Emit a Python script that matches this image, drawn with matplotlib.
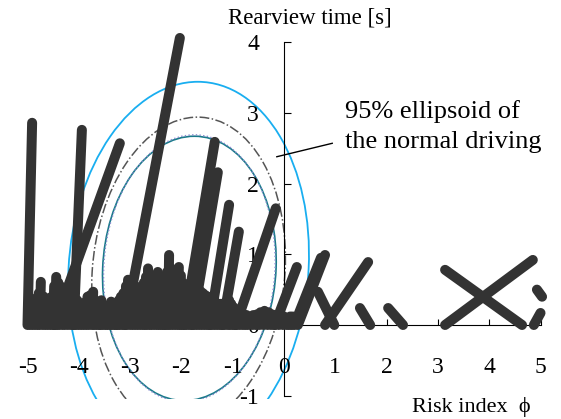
import numpy as np
import matplotlib
matplotlib.use('Agg')
import matplotlib.pyplot as plt
from matplotlib.patches import Ellipse
from matplotlib.transforms import Affine2D

plt.rcParams['font.family'] = ['Liberation Serif', 'DejaVu Serif']
plt.rcParams['axes.unicode_minus'] = False

# long strokes, (x0, y0) -> (x1, y1)
seg_x0 = [-5.00, -4.10, -4.48, -3.10, -1.95, -1.79, -1.45, -1.20, -0.94,
          -0.18, 0.20, 0.27, 0.66, 0.80, 1.48, 2.03, 3.14, 3.14, 4.93, 5.00]
seg_y0 = [0, 0, 0, 0, 0, 0, 0, 0, 0,
          0, 0, 0, 0.47, 0, 0.24, 0.24, 0.78, 0, 0.50, 0.17]
seg_x1 = [-4.91, -3.94, -3.20, -2.03, -1.35, -1.29, -1.07, -0.88, -0.16,
          0.25, 0.72, 0.80, 0.98, 1.64, 1.68, 2.32, 4.64, 4.85, 5.03, 4.87]
seg_y1 = [2.86, 2.76, 2.57, 4.06, 2.59, 2.16, 1.70, 1.32, 1.65,
          0.82, 0.95, 0.99, 0, 0.89, 0, 0, 0, 0.92, 0.40, 0]

# dense short bars along the axis
band_x = [-4.95, -4.90, -4.85, -4.80, -4.76, -4.70, -4.65, -4.60, -4.55, -4.50,
          -4.46, -4.42, -4.38, -4.32, -4.27, -4.21, -4.15, -4.10, -4.05, -4.00,
          -3.95, -3.90, -3.85, -3.80, -3.74, -3.70, -3.65, -3.60, -3.58, -3.53,
          -3.48, -3.44, -3.39, -3.35, -3.30, -3.27, -3.24, -3.20, -3.15, -3.10,
          -3.06, -3.00, -2.95, -2.90, -2.85, -2.80, -2.75, -2.71, -2.67, -2.62,
          -2.58, -2.53, -2.48, -2.44, -2.40, -2.36, -2.33, -2.30, -2.26, -2.22,
          -2.17, -2.12, -2.07, -2.03, -2.00, -1.95, -1.90, -1.85, -1.80, -1.75,
          -1.70, -1.65, -1.60, -1.55, -1.50, -1.45, -1.40, -1.35, -1.30, -1.25,
          -1.20, -1.15, -1.09, -1.05, -1.00, -0.96, -0.92, -0.86, -0.80, -0.75,
          -0.70, -0.62, -0.55, -0.48, -0.40, -0.32, -0.25, -0.18, -0.10, -0.02,
          0.05, 0.10, 0.15]
band_h = [0.25, 0.30, 0.38, 0.45, 0.61, 0.40, 0.30, 0.30, 0.40, 0.55,
          0.68, 0.60, 0.55, 0.45, 0.50, 0.40, 0.35, 0.32, 0.35, 0.30,
          0.30, 0.32, 0.40, 0.42, 0.47, 0.35, 0.30, 0.30, 0.35, 0.28,
          0.25, 0.28, 0.33, 0.30, 0.30, 0.32, 0.35, 0.40, 0.45, 0.55,
          0.64, 0.58, 0.55, 0.52, 0.50, 0.55, 0.60, 0.68, 0.80, 0.70,
          0.65, 0.70, 0.75, 0.68, 0.65, 0.66, 0.70, 0.75, 0.99, 0.80,
          0.70, 0.75, 0.82, 0.70, 0.60, 0.58, 0.55, 0.58, 0.60, 0.55,
          0.50, 0.48, 0.45, 0.42, 0.40, 0.38, 0.35, 0.32, 0.30, 0.30,
          0.30, 0.32, 0.35, 0.30, 0.25, 0.22, 0.20, 0.18, 0.15, 0.14,
          0.12, 0.14, 0.15, 0.18, 0.20, 0.18, 0.15, 0.14, 0.12, 0.12,
          0.10, 0.12, 0.12]

# ellipses: centre, half width, half height, shear
ell_cx = [-1.86, -1.86, -1.845, -1.845]
ell_cy = [0.80, 0.75, 0.80, 0.80]
ell_w = [2.34, 1.88, 1.69, 1.67]
ell_h = [2.64, 2.19, 1.87, 1.89]
ell_shear = [0.068, 0.08, 0.052, 0.052]
ell_color = ['#19aef0', '#555555', '#1a7a8a', '#8a8ad0']
ell_ls = ['-', '-.', '-', ':']
ell_lw = [1.3, 1.1, 1.2, 1.0]

fig = plt.figure(figsize=(5.61, 4.19), dpi=100)
ax = fig.add_axes([0.0353, 0.0489, 0.9419, 0.8757])

for cx, cy, w, h, s, c, ls, lw in zip(ell_cx, ell_cy, ell_w, ell_h, ell_shear,
                                      ell_color, ell_ls, ell_lw):
    tr = Affine2D().skew(np.arctan(s), 0).translate(cx, cy) + ax.transData
    ax.add_patch(Ellipse((0, 0), 2 * w, 2 * h, transform=tr, fill=False,
                         ec=c, ls=ls, lw=lw, zorder=1))

for x0, y0, x1, y1 in zip(seg_x0, seg_y0, seg_x1, seg_y1):
    ax.plot([x0, x1], [y0, y1], color='#333333', lw=7.2,
            solid_capstyle='round', zorder=3, clip_on=False)
for x, h in zip(band_x, band_h):
    ax.plot([x, x + 0.02], [0, h], color='#333333', lw=7.2,
            solid_capstyle='round', zorder=3, clip_on=False)

ax.set_xlim(-5.15, 5.15)
ax.set_ylim(-1.04, 4.15)
ax.spines['left'].set_position(('data', 0))
ax.spines['bottom'].set_position(('data', 0))
ax.spines['right'].set_visible(False)
ax.spines['top'].set_visible(False)
ax.spines['left'].set_bounds(-1, 4)
ax.spines['bottom'].set_bounds(-5, 5)
ax.set_xticks(range(-5, 6))
ax.set_yticks(range(-1, 5))
ax.tick_params(axis='x', direction='in', length=4, pad=23, labelsize=17)
ax.tick_params(axis='y', direction='in', length=5, pad=18, labelsize=17)
ax.patch.set_visible(False)

ax.text(0.5, 4.27, 'Rearview time [s]', ha='center', va='baseline', fontsize=16.5)
ax.text(3.65, -1.23, 'Risk index  ϕ', ha='center', va='baseline', fontsize=16)
ax.text(1.19, 2.93, '95% ellipsoid of', ha='left', va='baseline', fontsize=19)
ax.text(1.19, 2.50, 'the normal driving', ha='left', va='baseline', fontsize=19)
ax.plot([0.94, -0.14], [2.57, 2.38], color='black', lw=1, zorder=4, clip_on=False)

fig.savefig('out.png', dpi=100)
